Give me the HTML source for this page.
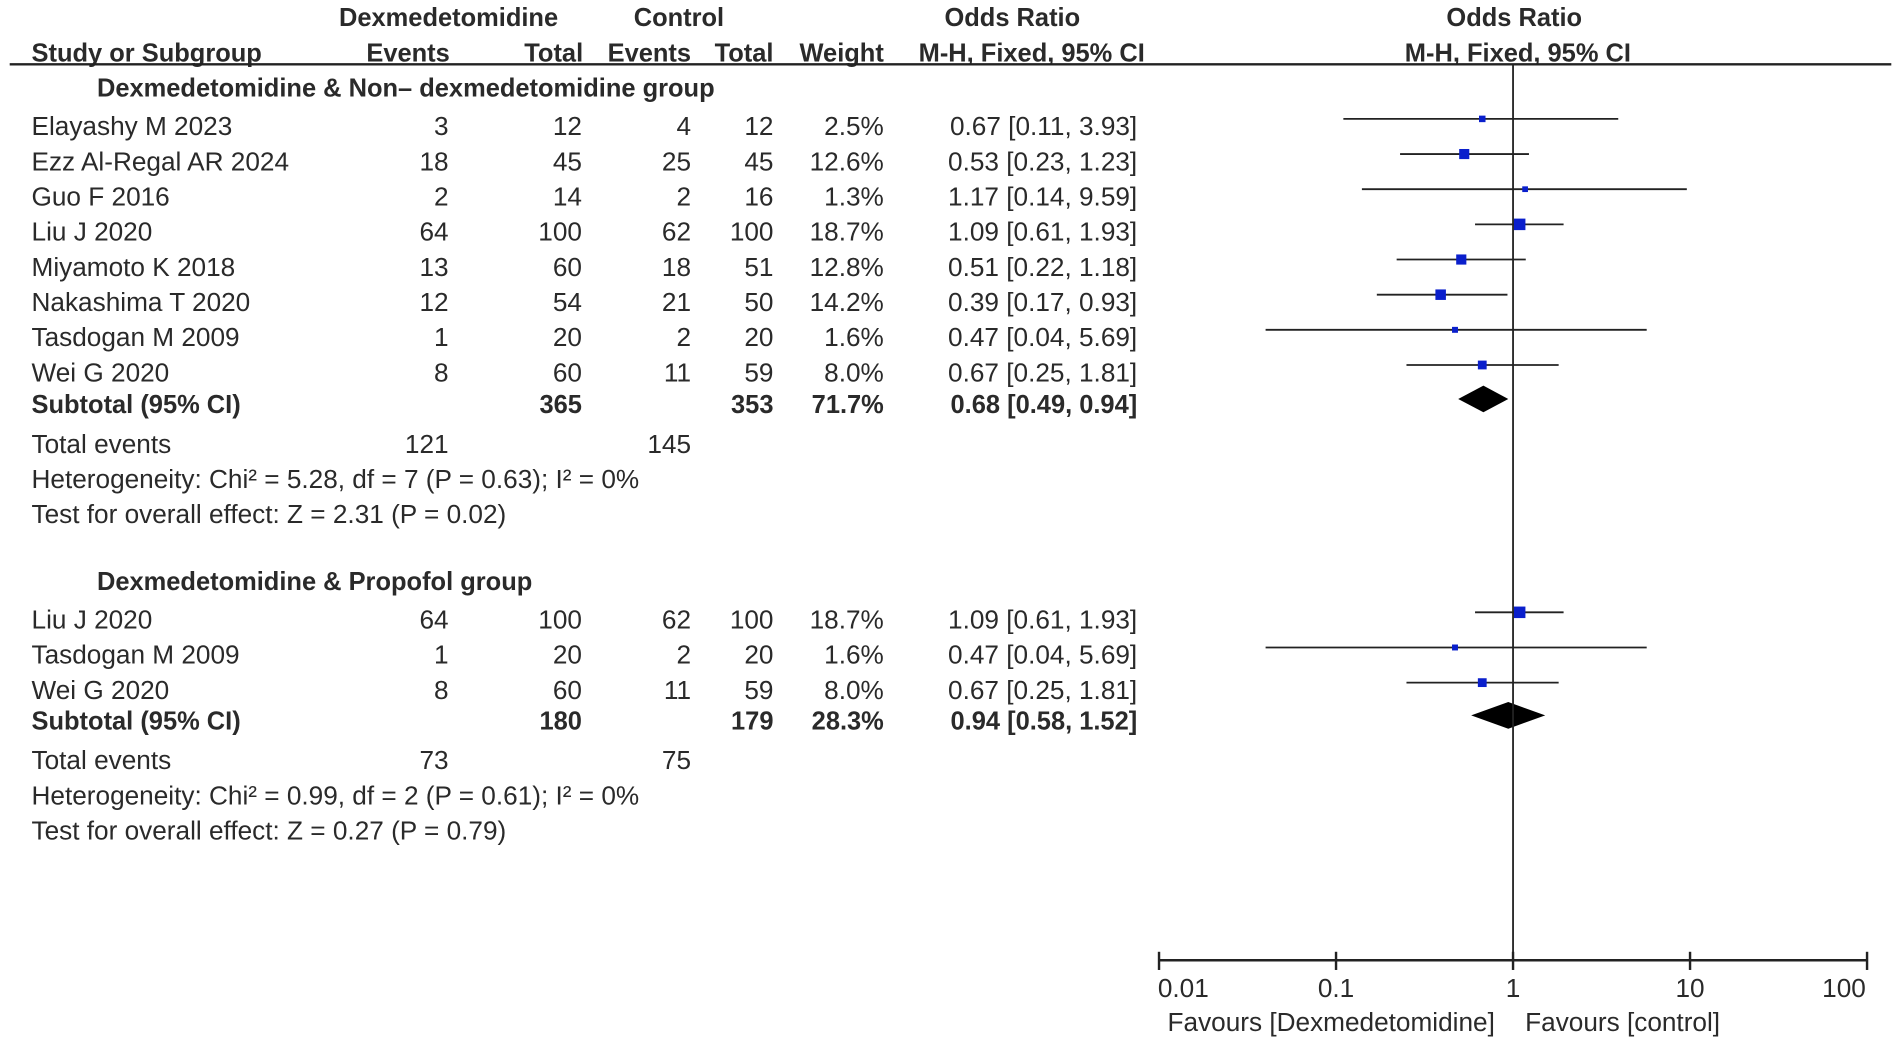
<!DOCTYPE html>
<html><head><meta charset="utf-8"><style>
html,body{margin:0;padding:0;background:#fff;}
svg{display:block;}
text{font-family:"Liberation Sans",Arial,sans-serif;font-size:21.6px;fill:#2a2a2a;dominant-baseline:central;}
.b{font-weight:bold;font-size:21px;}
</style></head><body>
<svg id="chart" width="1901" height="1044" viewBox="0 0 1568 861" xmlns="http://www.w3.org/2000/svg">
<g id="hdr">
<text class="b" x="370" y="15" text-anchor="middle">Dexmedetomidine</text>
<text class="b" x="560" y="15" text-anchor="middle">Control</text>
<text class="b" x="835" y="15" text-anchor="middle">Odds Ratio</text>
<text class="b" x="1249" y="15" text-anchor="middle">Odds Ratio</text>
<text class="b" x="26" y="44">Study or Subgroup</text>
<text class="b" x="371" y="44" text-anchor="end">Events</text>
<text class="b" x="481" y="44" text-anchor="end">Total</text>
<text class="b" x="570" y="44" text-anchor="end">Events</text>
<text class="b" x="638" y="44" text-anchor="end">Total</text>
<text class="b" x="729" y="44" text-anchor="end">Weight</text>
<text class="b" x="851" y="44" text-anchor="middle">M-H, Fixed, 95% CI</text>
<text class="b" x="1252" y="44" text-anchor="middle">M-H, Fixed, 95% CI</text>
<line x1="8" y1="53" x2="1560" y2="53" stroke="#222" stroke-width="2"/>
</g>
<g id="tbl"></g>
<g id="plot"></g>
</svg>
<script>
const studies1 = ["Elayashy M 2023","Ezz Al-Regal AR 2024","Guo F 2016","Liu J 2020","Miyamoto K 2018","Nakashima T 2020","Tasdogan M 2009","Wei G 2020"];
const dexEvents1 = [3,18,2,64,13,12,1,8];
const dexTotal1 = [12,45,14,100,60,54,20,60];
const ctrlEvents1 = [4,25,2,62,18,21,2,11];
const ctrlTotal1 = [12,45,16,100,51,50,20,59];
const weight1 = [2.5,12.6,1.3,18.7,12.8,14.2,1.6,8.0];
const or1 = [0.67,0.53,1.17,1.09,0.51,0.39,0.47,0.67];
const lo1 = [0.11,0.23,0.14,0.61,0.22,0.17,0.04,0.25];
const hi1 = [3.93,1.23,9.59,1.93,1.18,0.93,5.69,1.81];
const sub1 = [0.68,0.49,0.94];
const studies2 = ["Liu J 2020","Tasdogan M 2009","Wei G 2020"];
const dexEvents2 = [64,1,8];
const dexTotal2 = [100,20,60];
const ctrlEvents2 = [62,2,11];
const ctrlTotal2 = [100,20,59];
const weight2 = [18.7,1.6,8.0];
const or2 = [1.09,0.47,0.67];
const lo2 = [0.61,0.04,0.25];
const hi2 = [1.93,5.69,1.81];
const sub2 = [0.94,0.58,1.52];
const tickValues = [0.01,0.1,1,10,100];
const tickLabels = ["0.01","0.1","1","10","100"];

const NS="http://www.w3.org/2000/svg";
const tbl=document.getElementById('tbl'), plot=document.getElementById('plot');
const X = v => 1248 + 146*Math.log10(v);
function el(tag,attrs,parent,txt){const e=document.createElementNS(NS,tag);for(const k in attrs)e.setAttribute(k,attrs[k]);if(txt!==undefined)e.textContent=txt;parent.appendChild(e);return e;}
function txt(x,y,s,anchor,bold,name){
  const e=el('text',{x:x,y:y,'text-anchor':anchor||'start'},tbl,s);
  if(bold)e.setAttribute('class','b');
  
  
  return e;
}
const f2=v=>v.toFixed(2);
function group(title,ty,rows0,studies,de,dt,ce,ct,w,or,lo,hi,sub,subY,totY,het,test){
  txt(80,ty,title,'start',true,'subgroup-title');
  studies.forEach((s,i)=>{
    const y=rows0+29*i;
    txt(26,y,s,'start',false,'study-name');
    txt(370,y,String(de[i]),'end',false,'dex-events');
    txt(480,y,String(dt[i]),'end',false,'dex-total');
    txt(570,y,String(ce[i]),'end',false,'ctrl-events');
    txt(638,y,String(ct[i]),'end',false,'ctrl-total');
    txt(729,y,w[i].toFixed(1)+'%','end',false,'weight');
    txt(938,y,f2(or[i])+' ['+f2(lo[i])+', '+f2(hi[i])+']','end',false,'odds-ratio-ci');
    const my=y-6;
    const ln=el('line',{x1:X(lo[i]),x2:X(hi[i]),y1:my,y2:my,stroke:'#222','stroke-width':1.5},plot);
    
    
    const sz=3+Math.sqrt(w[i]/18.7)*6.5;
    const sq=el('rect',{x:X(or[i])-sz/2,y:my-sz/2,width:sz,height:sz,fill:'#0a1fcc'},plot);
    
    
  });
  const dt_=dt.reduce((a,b)=>a+b,0), ct_=ct.reduce((a,b)=>a+b,0), ws=w.reduce((a,b)=>a+b,0);
  const de_=de.reduce((a,b)=>a+b,0), ce_=ce.reduce((a,b)=>a+b,0);
  txt(26,subY,'Subtotal (95% CI)','start',true,'subtotal-label');
  txt(480,subY,String(dt_),'end',true,'subtotal-dex-total');
  txt(638,subY,String(ct_),'end',true,'subtotal-ctrl-total');
  txt(729,subY,ws.toFixed(1)+'%','end',true,'subtotal-weight');
  txt(938,subY,f2(sub[0])+' ['+f2(sub[1])+', '+f2(sub[2])+']','end',true,'subtotal-or');
  const dy=subY-5;
  const d=el('polygon',{points:`${X(sub[1])},${dy} ${X(sub[0])},${dy-11} ${X(sub[2])},${dy} ${X(sub[0])},${dy+11}`,fill:'#000'},plot);
  
  
  txt(26,totY,'Total events','start',false,'total-events-label');
  txt(370,totY,String(de_),'end',false,'total-dex-events');
  txt(570,totY,String(ce_),'end',false,'total-ctrl-events');
  txt(26,totY+29,het,'start',false,'heterogeneity');
  txt(26,totY+58,test,'start',false,'overall-effect');
}
group('Dexmedetomidine & Non\u2013 dexmedetomidine group',73,104,studies1,dexEvents1,dexTotal1,ctrlEvents1,ctrlTotal1,weight1,or1,lo1,hi1,sub1,334,366,
 'Heterogeneity: Chi\u00b2 = 5.28, df = 7 (P = 0.63); I\u00b2 = 0%','Test for overall effect: Z = 2.31 (P = 0.02)');
group('Dexmedetomidine & Propofol group',480,511,studies2,dexEvents2,dexTotal2,ctrlEvents2,ctrlTotal2,weight2,or2,lo2,hi2,sub2,595,627,
 'Heterogeneity: Chi\u00b2 = 0.99, df = 2 (P = 0.61); I\u00b2 = 0%','Test for overall effect: Z = 0.27 (P = 0.79)');

const vl=el('line',{x1:X(1),x2:X(1),y1:53,y2:792,stroke:'#222','stroke-width':1.5},plot);


const ax=el('line',{x1:X(tickValues[0]),x2:X(tickValues[tickValues.length-1]),y1:792,y2:792,stroke:'#222','stroke-width':2},plot);


tickValues.forEach((v,i)=>{
  const t=el('line',{x1:X(v),x2:X(v),y1:785,y2:800,stroke:'#222','stroke-width':2},plot);
  
  
  const anchor=i===0?'start':(i===tickValues.length-1?'end':'middle');
  const lx=i===0?X(v)-1:(i===tickValues.length-1?X(v)-1:X(v));
  const l=el('text',{x:lx,y:815,'text-anchor':anchor},plot,tickLabels[i]);
  
  
});
const fa=el('text',{x:1233,y:843,'text-anchor':'end'},plot,'Favours [Dexmedetomidine]');


const fb=el('text',{x:1258,y:843,'text-anchor':'start'},plot,'Favours [control]');


</script>
</body></html>
